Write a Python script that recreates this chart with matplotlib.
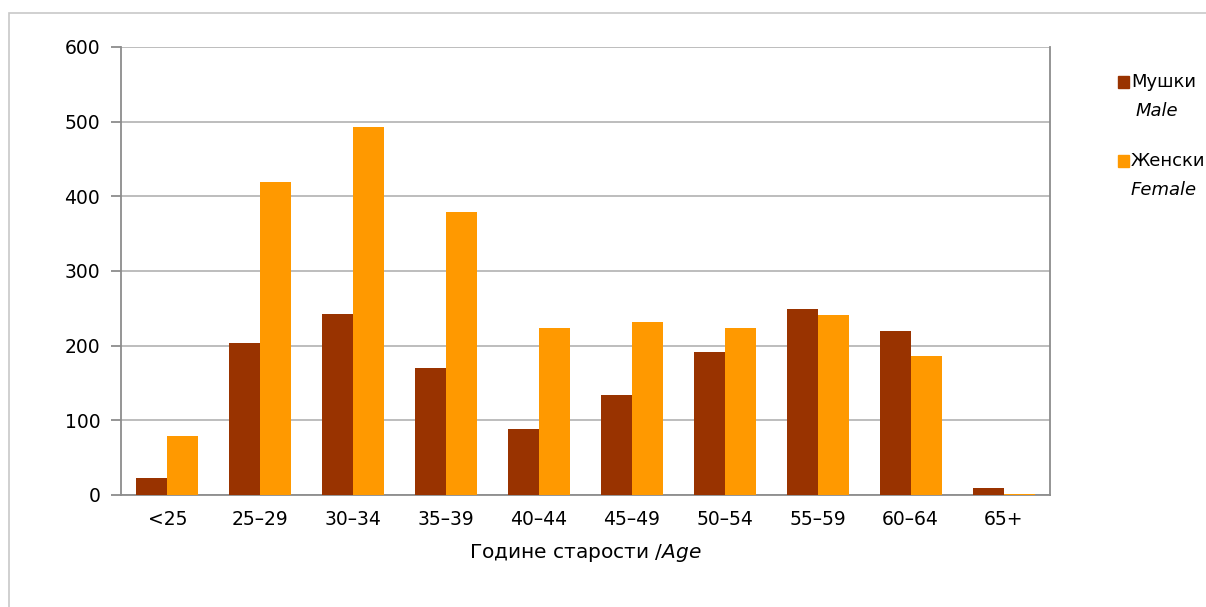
import numpy as np
import matplotlib
matplotlib.use("Agg")
from matplotlib import pyplot as plt
from matplotlib.patches import Rectangle

categories = ["<25", "25–29", "30–34", "35–39", "40–44", "45–49",
              "50–54", "55–59", "60–64", "65+"]
male = [23, 203, 243, 170, 89, 134, 192, 249, 220, 10]
female = [79, 419, 493, 379, 224, 232, 224, 241, 186, 1]
yticks = [0, 100, 200, 300, 400, 500, 600]

male_color = "#993300"
female_color = "#FF9900"

plt.rcParams["font.family"] = ["DejaVu Sans"]
plt.rcParams["mathtext.fontset"] = "dejavusans"

W, H = 1206, 607
fig = plt.figure(figsize=(W / 100, H / 100), dpi=100)

# outer chart border (light grey)
fig.patches.append(Rectangle((9 / W, -0.1), 1.2, 1 - 13 / H + 0.1,
                             transform=fig.transFigure, fill=False,
                             edgecolor="#c8c8c8", linewidth=1.2))

ax = fig.add_axes([121 / W, 1 - 495 / H, (1050 - 121) / W, (495 - 47) / H])

x = np.arange(len(categories))
w = 1 / 3
ax.bar(x - w / 2, male, width=w, color=male_color, zorder=3)
ax.bar(x + w / 2, female, width=w, color=female_color, zorder=3)

ax.set_xlim(-0.5, len(categories) - 0.5)
ax.set_ylim(0, 600)
ax.set_yticks(yticks)
ax.set_xticks(x)
ax.set_xticklabels(categories)
ax.grid(axis="y", color="#b8b8b8", linewidth=1.3, zorder=0)
for s in ax.spines.values():
    s.set_color("#8c8c8c")
    s.set_linewidth(1.3)
ax.spines["top"].set_visible(False)
ax.tick_params(axis="y", length=7, color="#8c8c8c", width=1.3, labelsize=13.5, pad=8)
ax.tick_params(axis="x", length=0, labelsize=13.5, pad=11)

ax.set_xlabel("Године старости /$\\mathit{Age}$", fontsize=14.5, labelpad=9)

# legend drawn by hand: Serbian name with English in italics below
def legend_item(y_sq, name, eng, x_eng, color):
    fig.patches.append(Rectangle((1118 / W, 1 - (y_sq + 6) / H), 11 / W, 12 / H,
                                 transform=fig.transFigure, color=color))
    fig.text(1131 / W, 1 - y_sq / H, name, fontsize=13, va="center", ha="left")
    fig.text(x_eng / W, 1 - (y_sq + 29) / H, eng, fontsize=13,
             style="italic", va="center", ha="left")

legend_item(82, "Мушки", "Male", 1136, male_color)
legend_item(161, "Женски", "Female", 1131, female_color)

fig.savefig("out.png", dpi=100)
